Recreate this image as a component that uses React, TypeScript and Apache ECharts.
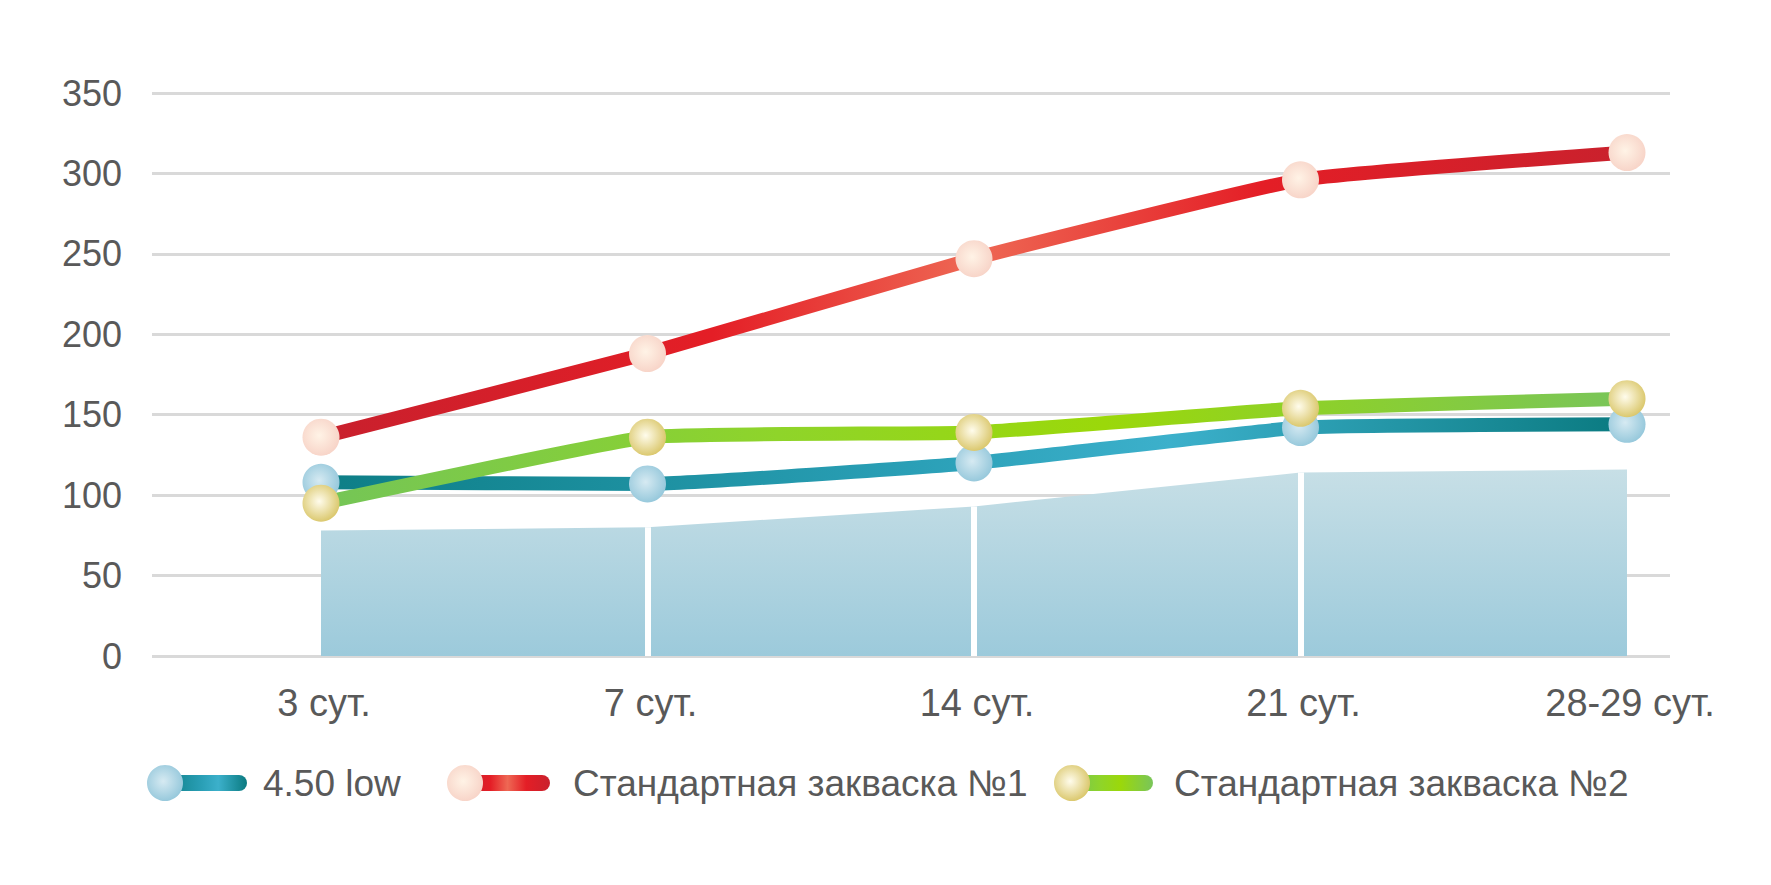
import React, { useEffect, useRef } from "react";
import * as echarts from "echarts";

const categories = ["3 сут.", "7 сут.", "14 сут.", "21 сут.", "28-29 сут."];
const low450 = [108, 107, 120, 142, 144];
const standard1 = [136, 188, 247, 296, 313];
const standard2 = [95, 136, 139, 154, 160];
const backdrop = [78, 80, 93, 114, 116];
const seriesNames = ["4.50 low", "Стандартная закваска №1", "Стандартная закваска №2"];
const yMin = 0;
const yMax = 350;
const yStep = 50;

const FONT = "'Liberation Sans', Arial, sans-serif";
const TEXT = "#595959";

const lin = (stops: [number, string][]) =>
  new echarts.graphic.LinearGradient(0, 0, 1, 0, stops.map(([offset, color]) => ({ offset, color })));
const rad = (c: string, e: string) =>
  new echarts.graphic.RadialGradient(0.45, 0.45, 0.6, [
    { offset: 0, color: c },
    { offset: 1, color: e },
  ]);

const tealLine: [number, string][] = [[0, "#0d7e86"], [0.45, "#2a9fb6"], [0.65, "#3cb0cb"], [1, "#0a7a80"]];
const redLine: [number, string][] = [[0, "#c8202d"], [0.3, "#e41e26"], [0.5, "#ee6854"], [0.72, "#e41e26"], [1, "#c9212d"]];
const greenLine: [number, string][] = [[0, "#74c557"], [0.35, "#8fd42a"], [0.6, "#9bd80a"], [1, "#79c55a"]];

const tealSym = ["#d6eaf2", "#92c6da"];
const redSym = ["#fff3e6", "#f7d2c6"];
const greenSym = ["#fffcec", "#d8c464"];

export default function App() {
  const ref = useRef<HTMLDivElement>(null);
  useEffect(() => {
    if (!ref.current) return;
    const chart = echarts.init(ref.current, undefined, { renderer: "svg" });

    const lineSeries = (name: string, data: number[], lineStops: [number, string][], sym: string[], z: number) => ({
      name,
      type: "line",
      xAxisIndex: 1,
      yAxisIndex: 1,
      data,
      smooth: 0.12,
      symbol: "circle",
      symbolSize: 37,
      z,
      lineStyle: { width: 14, color: lin(lineStops), cap: "round" },
      itemStyle: { color: rad(sym[0], sym[1]), borderWidth: 0 },
    });

    const legendItems = [
      { cx: 165, lineEnd: 247, tx: 263, stops: tealLine, sym: tealSym, name: seriesNames[0] },
      { cx: 465, lineEnd: 550, tx: 573, stops: redLine, sym: redSym, name: seriesNames[1] },
      { cx: 1072, lineEnd: 1153, tx: 1174, stops: greenLine, sym: greenSym, name: seriesNames[2] },
    ];
    const legendY = 783;
    const graphic: any[] = [];
    legendItems.forEach((it) => {
      graphic.push({
        type: "rect",
        shape: { x: it.cx, y: legendY - 8, width: it.lineEnd - it.cx, height: 16, r: 8 },
        style: { fill: lin(it.stops) },
        z: 10,
      });
      graphic.push({
        type: "circle",
        shape: { cx: it.cx, cy: legendY, r: 18 },
        style: { fill: rad(it.sym[0], it.sym[1]) },
        z: 11,
      });
      graphic.push({
        type: "text",
        x: it.tx,
        y: legendY,
        style: { text: it.name, font: `37px ${FONT}`, fill: TEXT, verticalAlign: "middle" },
        z: 11,
      });
    });

    const gapLines = categories.slice(1, 4).map((c, i) => [
      { coord: [c, 0] },
      { coord: [c, backdrop[i + 1]] },
    ]);

    chart.setOption({
      animation: false,
      backgroundColor: "#ffffff",
      textStyle: { fontFamily: FONT },
      grid: [
        { left: 152, right: 101, top: 93, bottom: 229 },
        { left: 321, right: 144, top: 93, bottom: 229 },
      ],
      xAxis: [
        { type: "value", gridIndex: 0, show: false, min: 0, max: 1 },
        {
          type: "category",
          gridIndex: 1,
          data: categories,
          boundaryGap: false,
          axisLine: { show: false },
          axisTick: { show: false },
          splitLine: { show: false },
          axisLabel: { color: TEXT, fontSize: 38, fontFamily: FONT, margin: 28, padding: [0, 0, 0, 6] },
        },
      ],
      yAxis: [
        {
          type: "value",
          gridIndex: 0,
          min: yMin,
          max: yMax,
          interval: yStep,
          axisLine: { show: false },
          axisTick: { show: false },
          axisLabel: { color: TEXT, fontSize: 36, fontFamily: FONT, margin: 30 },
          splitLine: { lineStyle: { color: "#d9d9d9", width: 3 } },
        },
        { type: "value", gridIndex: 1, min: yMin, max: yMax, interval: yStep, show: false },
      ],
      graphic,
      series: [
        {
          name: "backdrop",
          type: "line",
          xAxisIndex: 1,
          yAxisIndex: 1,
          data: backdrop,
          symbol: "none",
          silent: true,
          z: 1,
          lineStyle: { width: 0 },
          areaStyle: {
            opacity: 1,
            color: new echarts.graphic.LinearGradient(0, 0, 0, 1, [
              { offset: 0, color: "#c7dfe6" },
              { offset: 1, color: "#9ccadb" },
            ]),
          },
          markLine: {
            silent: true,
            symbol: ["none", "none"],
            label: { show: false },
            lineStyle: { color: "#ffffff", width: 6, type: "solid", opacity: 1 },
            data: gapLines,
          },
        },
        lineSeries(seriesNames[0], low450, tealLine, tealSym, 3),
        lineSeries(seriesNames[1], standard1, redLine, redSym, 4),
        lineSeries(seriesNames[2], standard2, greenLine, greenSym, 5),
      ],
    });
    return () => chart.dispose();
  }, []);
  return <div ref={ref} style={{ position: "fixed", left: 0, top: 0, width: 1771, height: 885 }} />;
}
